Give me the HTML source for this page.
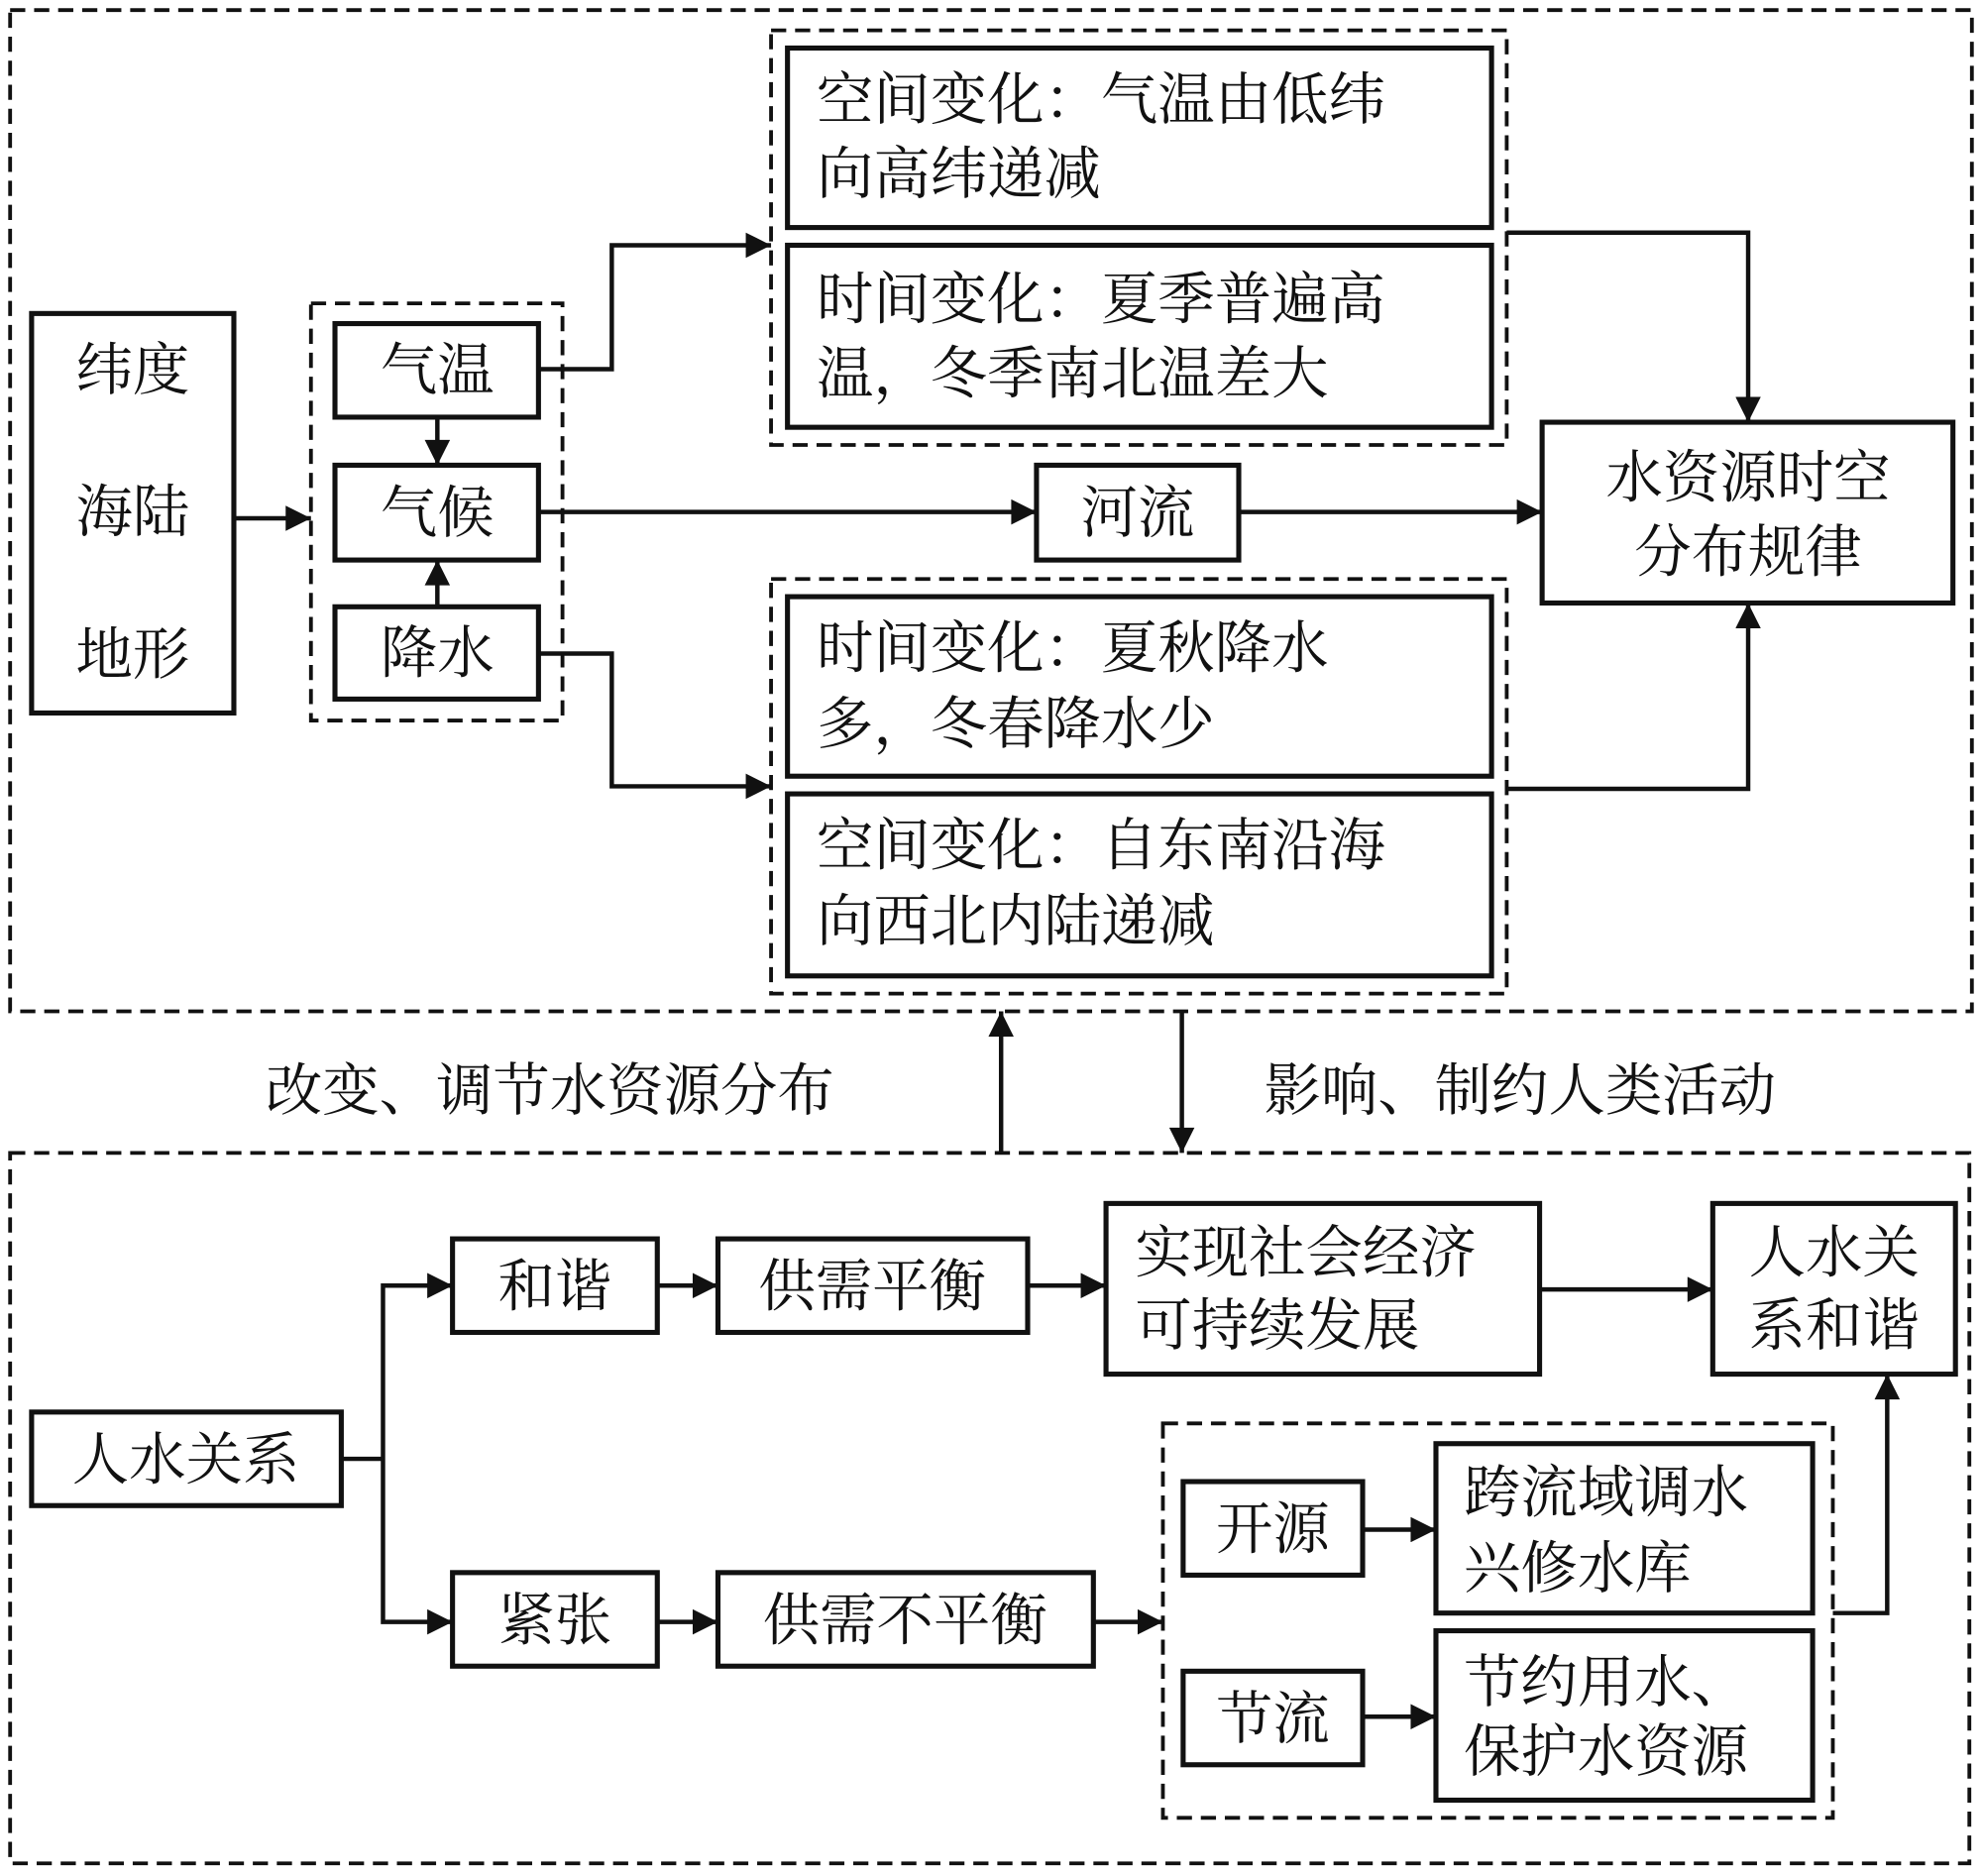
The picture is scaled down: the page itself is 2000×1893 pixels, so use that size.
<!DOCTYPE html>
<html><head><meta charset="utf-8"><style>
html,body{margin:0;padding:0;background:#fff;}
svg{display:block;}
text{font-family:"Liberation Serif","Noto Serif CJK SC",serif;font-size:45px;fill:#111;}
.b{fill:#fff;stroke:#111;stroke-width:4;}
.d{fill:none;stroke:#111;stroke-width:3;stroke-dasharray:12 7;}
.l{fill:none;stroke:#111;stroke-width:3.5;}
</style></head><body>
<svg width="2000" height="1893" viewBox="0 0 1568 1484" preserveAspectRatio="none" xmlns="http://www.w3.org/2000/svg">
<defs><marker id="a" viewBox="0 0 10 10" refX="9" refY="5" markerWidth="6" markerHeight="6" markerUnits="userSpaceOnUse" orient="auto"><path d="M0,0L10,5L0,10z" fill="#111"/></marker>
<marker id="m" viewBox="0 0 10 10" refX="10" refY="5" markerWidth="22" markerHeight="20" markerUnits="userSpaceOnUse" orient="auto"><path d="M0,0L10,5L0,10z" fill="#111"/></marker></defs>
<rect class="d" x="8" y="8" width="1552" height="792"/>
<rect class="d" x="8" y="912" width="1550" height="562"/>
<rect class="b" x="25" y="248" width="160" height="316"/>
<text x="105" y="308" text-anchor="middle">纬度</text>
<text x="105" y="420" text-anchor="middle">海陆</text>
<text x="105" y="533" text-anchor="middle">地形</text>
<rect class="d" x="246" y="240" width="199" height="330"/>
<rect class="b" x="265" y="256" width="161" height="74"/><text x="346" y="308" text-anchor="middle">气温</text>
<rect class="b" x="265" y="368" width="161" height="75"/><text x="346" y="421" text-anchor="middle">气候</text>
<rect class="b" x="265" y="480" width="161" height="73"/><text x="346" y="532" text-anchor="middle">降水</text>
<path class="l" d="M185,410H246" marker-end="url(#m)"/>
<path class="l" d="M346,330V368" marker-end="url(#m)"/>
<path class="l" d="M346,480V443" marker-end="url(#m)"/>
<rect class="d" x="610" y="24" width="582" height="328"/>
<rect class="b" x="623" y="38" width="557" height="142"/>
<text x="646" y="94">空间变化：气温由低纬</text><text x="646" y="153">向高纬递减</text>
<rect class="b" x="623" y="194" width="557" height="144"/>
<text x="646" y="252">时间变化：夏季普遍高</text><text x="646" y="311">温，冬季南北温差大</text>
<rect class="d" x="610" y="458" width="582" height="328"/>
<rect class="b" x="623" y="472" width="557" height="142"/>
<text x="646" y="528">时间变化：夏秋降水</text><text x="646" y="588">多，冬春降水少</text>
<rect class="b" x="623" y="628" width="557" height="144"/>
<text x="646" y="684">空间变化：自东南沿海</text><text x="646" y="744">向西北内陆递减</text>
<path class="l" d="M426,292H484V194H610" marker-end="url(#m)"/>
<path class="l" d="M426,517H484V622H610" marker-end="url(#m)"/>
<path class="l" d="M426,405H820" marker-end="url(#m)"/>
<rect class="b" x="820" y="368" width="160" height="75"/><text x="900" y="421" text-anchor="middle">河流</text>
<path class="l" d="M980,405H1220" marker-end="url(#m)"/>
<rect class="b" x="1220" y="334" width="325" height="143"/>
<text x="1383" y="393" text-anchor="middle">水资源时空</text><text x="1383" y="452" text-anchor="middle">分布规律</text>
<path class="l" d="M1192,184H1383V334" marker-end="url(#m)"/>
<path class="l" d="M1192,624H1383V477" marker-end="url(#m)"/>
<path class="l" d="M792,912V800" marker-end="url(#m)"/>
<path class="l" d="M935,800V912" marker-end="url(#m)"/>
<text x="210" y="878">改变、调节水资源分布</text>
<text x="1000" y="878">影响、制约人类活动</text>
<rect class="b" x="25" y="1117" width="245" height="74"/><text x="147" y="1170" text-anchor="middle">人水关系</text>
<path class="l" d="M270,1154H303"/>
<path class="l" d="M303,1154V1017H358" marker-end="url(#m)"/>
<path class="l" d="M303,1154V1283H358" marker-end="url(#m)"/>
<rect class="b" x="358" y="980" width="162" height="74"/><text x="439" y="1033" text-anchor="middle">和谐</text>
<path class="l" d="M520,1017H568" marker-end="url(#m)"/>
<rect class="b" x="568" y="980" width="245" height="74"/><text x="690" y="1033" text-anchor="middle">供需平衡</text>
<path class="l" d="M813,1017H875" marker-end="url(#m)"/>
<rect class="b" x="875" y="952" width="343" height="135"/>
<text x="898" y="1006">实现社会经济</text><text x="898" y="1064">可持续发展</text>
<path class="l" d="M1218,1020H1355" marker-end="url(#m)"/>
<rect class="b" x="1355" y="952" width="192" height="135"/>
<text x="1451" y="1006" text-anchor="middle">人水关</text><text x="1451" y="1064" text-anchor="middle">系和谐</text>
<rect class="b" x="358" y="1244" width="162" height="74"/><text x="439" y="1297" text-anchor="middle">紧张</text>
<path class="l" d="M520,1283H568" marker-end="url(#m)"/>
<rect class="b" x="568" y="1244" width="297" height="74"/><text x="716" y="1297" text-anchor="middle">供需不平衡</text>
<path class="l" d="M865,1283H920" marker-end="url(#m)"/>
<rect class="d" x="920" y="1126" width="530" height="312"/>
<rect class="b" x="936" y="1172" width="142" height="74"/><text x="1007" y="1225" text-anchor="middle">开源</text>
<path class="l" d="M1078,1210H1136" marker-end="url(#m)"/>
<rect class="b" x="1136" y="1142" width="298" height="134"/>
<text x="1158" y="1196">跨流域调水</text><text x="1158" y="1256">兴修水库</text>
<rect class="b" x="936" y="1322" width="142" height="74"/><text x="1007" y="1375" text-anchor="middle">节流</text>
<path class="l" d="M1078,1358H1136" marker-end="url(#m)"/>
<rect class="b" x="1136" y="1290" width="298" height="134"/>
<text x="1158" y="1346">节约用水、</text><text x="1158" y="1401">保护水资源</text>
<path class="l" d="M1450,1276H1493V1087" marker-end="url(#m)"/>
</svg>
</body></html>
